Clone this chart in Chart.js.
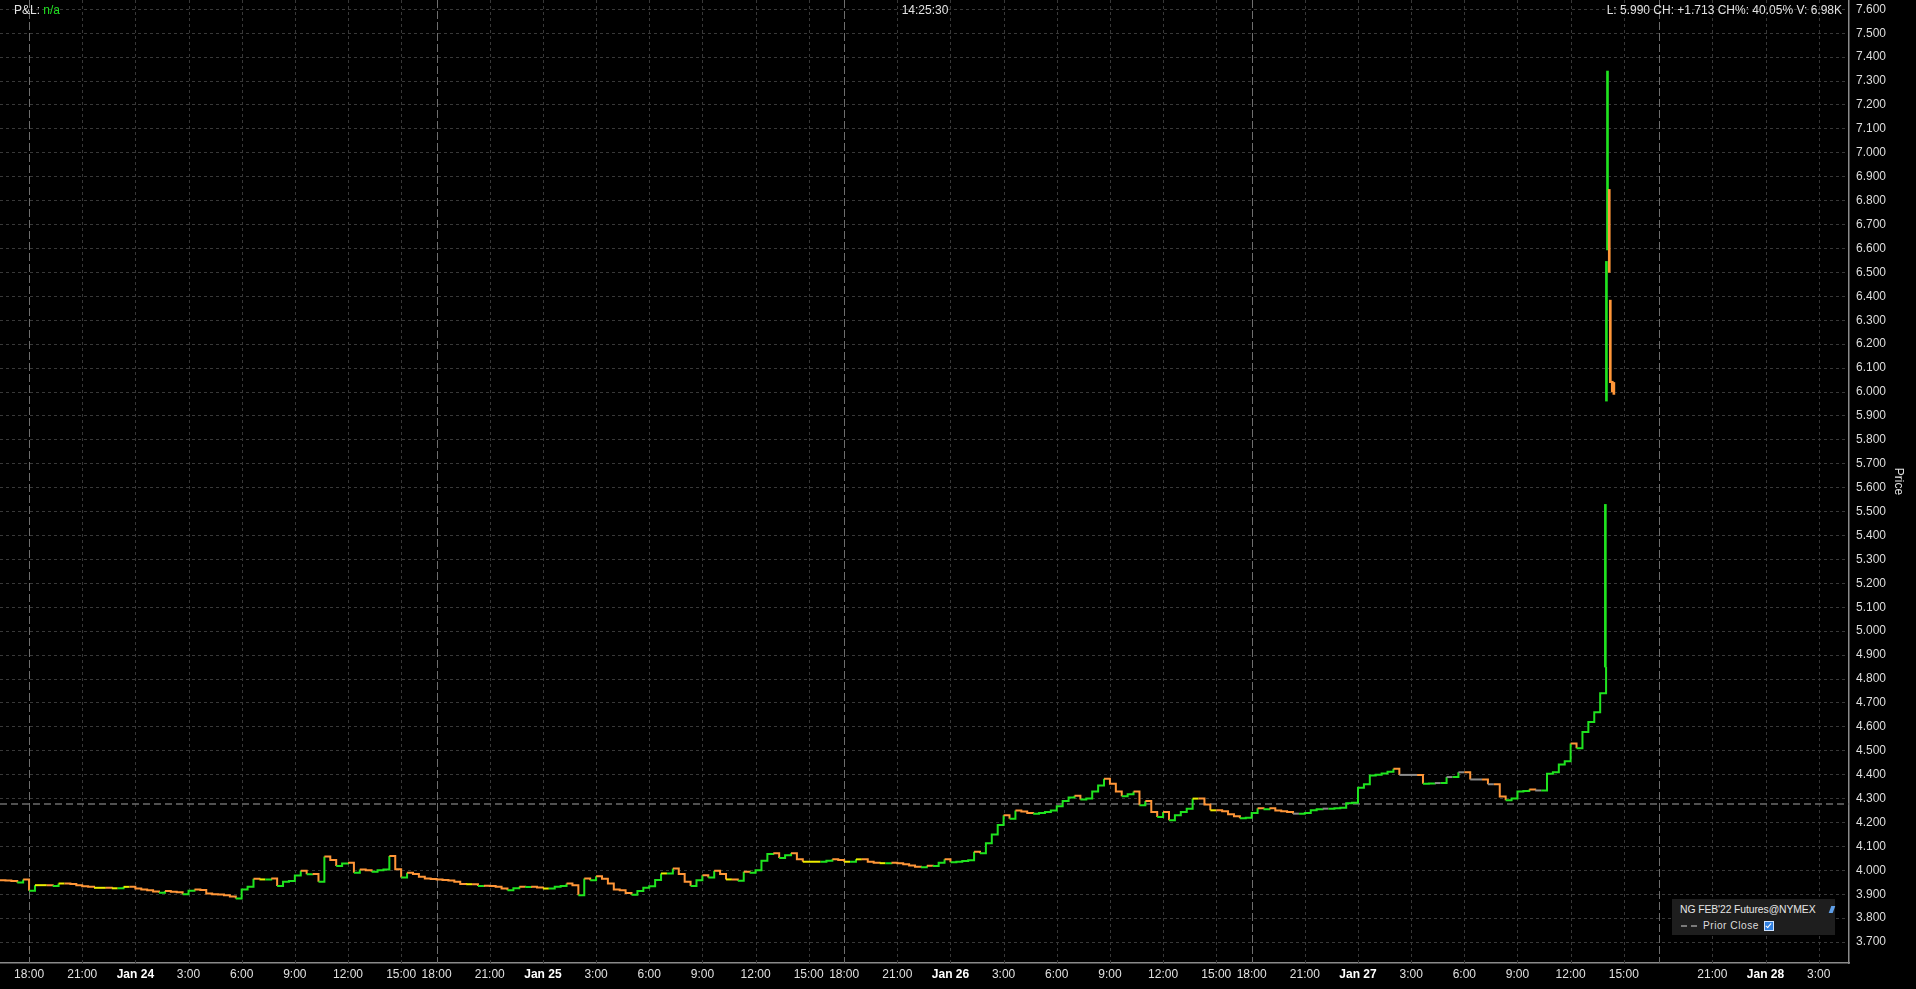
<!DOCTYPE html>
<html>
<head>
<meta charset="utf-8">
<script src="https://cdn.jsdelivr.net/npm/chart.js@4/dist/chart.umd.min.js"></script>
<style>
  html, body { margin:0; padding:0; background:#000; width:1916px; height:989px; overflow:hidden; }
  body { font-family: 'Liberation Sans', Arial, sans-serif; position:relative; }
  #wrap { position:absolute; left:0; top:0; width:1916px; height:989px; }
  canvas { position:absolute; left:0; top:0; }
  .hdr { position:absolute; top:3px; font-size:12px; line-height:14px; color:#e2e2e2; white-space:nowrap; }
  #legend { position:absolute; left:1672px; top:899px; width:163px; height:36px; background:#1e1e1e; }
  #legend .l1 { position:absolute; left:8px; top:4px; font-size:10.4px; line-height:13px; color:#e6e6e6; white-space:nowrap; letter-spacing:-0.1px; }
  #legend .l2 { position:absolute; left:9px; top:20px; font-size:10.2px; line-height:13px; color:#dcdcdc; white-space:nowrap; letter-spacing:0.5px; }
  #legend .dash { display:inline-block; width:16px; height:0; border-top:2px dashed #7a7a7a; vertical-align:middle; margin-right:6px; }
  #legend .chk { display:inline-block; width:8px; height:8px; background:#2f7fe0; border:1px solid #cfe3ff; vertical-align:middle; margin-left:5px; position:relative; }
  #legend .chk::after { content:''; position:absolute; left:2px; top:0px; width:2px; height:5px; border:solid #fff; border-width:0 1.5px 1.5px 0; transform:rotate(40deg); }
  #legend .icon { position:absolute; left:158px; top:7px; width:4px; height:7px; background:#5f9fe8; transform:skewX(-20deg); }
</style>
</head>
<body>
<div id="wrap">
  <canvas id="c" width="1916" height="989"></canvas>
  <div class="hdr" style="left:14px;">P&amp;L: <span style="color:#22e022">n/a</span></div>
  <div class="hdr" style="left:925px;transform:translateX(-50%);">14:25:30</div>
  <div class="hdr" style="right:74px;">L: 5.990 CH: +1.713 CH%: 40.05% V: 6.98K</div>
  <div id="legend">
    <div class="l1">NG FEB'22 Futures@NYMEX</div>
    <div class="icon"></div>
    <div class="l2"><span class="dash"></span>Prior Close<span class="chk"></span></div>
  </div>
</div>
<script>
// ---- Data (x in trading hours since Sun Jan 23 18:00; the 17:00-18:00 break is skipped) ----
const START_HOUR = -5/3;      // first sample: 16:20 (previous session)
const STEP_HOUR = 1/3;        // 20-minute samples

const PRICES = [
  3.959,3.958,3.955,3.949,3.962,3.915,3.938,3.938,3.938,3.935,
  3.945,3.945,3.943,3.938,3.933,3.931,3.927,3.927,3.927,3.925,
  3.925,3.931,3.931,3.924,3.920,3.917,3.912,3.906,3.914,3.910,
  3.908,3.900,3.915,3.920,3.918,3.903,3.900,3.899,3.896,3.891,
  3.882,3.920,3.931,3.965,3.962,3.962,3.966,3.935,3.952,3.955,
  3.978,3.998,3.984,3.985,3.952,4.058,4.043,4.018,4.029,4.032,
  3.990,4.004,4.000,3.994,4.000,4.004,4.060,4.005,3.970,3.990,
  3.985,3.973,3.966,3.964,3.962,3.960,3.958,3.952,3.943,3.942,
  3.942,3.935,3.936,3.935,3.931,3.924,3.917,3.925,3.931,3.930,
  3.931,3.928,3.924,3.924,3.931,3.935,3.945,3.938,3.896,3.966,
  3.959,3.975,3.965,3.945,3.920,3.917,3.905,3.898,3.914,3.927,
  3.934,3.960,3.987,3.987,4.008,3.985,3.952,3.935,3.959,3.980,
  3.970,3.998,3.985,3.962,3.962,3.956,3.994,3.990,4.000,4.040,
  4.068,4.071,4.052,4.063,4.071,4.046,4.036,4.036,4.036,4.036,
  4.040,4.046,4.043,4.036,4.036,4.046,4.046,4.036,4.032,4.030,
  4.030,4.032,4.030,4.025,4.020,4.015,4.013,4.019,4.018,4.032,
  4.046,4.034,4.036,4.039,4.042,4.078,4.071,4.113,4.150,4.190,
  4.230,4.216,4.250,4.246,4.240,4.237,4.240,4.244,4.250,4.268,
  4.290,4.305,4.312,4.296,4.300,4.330,4.355,4.383,4.362,4.330,
  4.310,4.318,4.330,4.272,4.290,4.244,4.223,4.244,4.209,4.230,
  4.244,4.258,4.300,4.300,4.275,4.251,4.251,4.247,4.235,4.226,
  4.218,4.220,4.240,4.260,4.255,4.260,4.250,4.247,4.244,4.237,
  4.237,4.240,4.251,4.255,4.258,4.258,4.260,4.262,4.281,4.283,
  4.345,4.360,4.397,4.400,4.405,4.412,4.425,4.399,4.399,4.399,
  4.399,4.362,4.363,4.365,4.365,4.390,4.390,4.410,4.410,4.380,
  4.380,4.380,4.360,4.360,4.309,4.293,4.300,4.330,4.332,4.338,
  4.334,4.334,4.404,4.410,4.443,4.456,4.530,4.510,4.578,4.620,
  4.661,4.740,4.850
];

// Final expiry spike: individual bars (low/high), up = green, down = orange
const SPIKE_HOURS = [88.96, 89.02, 89.08, 89.18, 89.24, 89.35, 89.44];
const SPIKE_LOW   = [4.850, 5.962, 6.594, 6.500, 6.039, 6.000, 5.990];
const SPIKE_HIGH  = [5.530, 6.546, 7.342, 6.847, 6.384, 6.045, 6.040];
const SPIKE_UP    = [true, true, true, false, false, false, false];

const PRIOR_CLOSE = 4.277;

const TICK_HOURS  = [0,3,6,9,12,15,18,21, 23,26,29,32,35,38,41,44, 46,49,52,55,58,61,64,67, 69,72,75,78,81,84,87,90, 92,95,98,101];
const TICK_LABELS = ['18:00','21:00','Jan 24','3:00','6:00','9:00','12:00','15:00',
                     '18:00','21:00','Jan 25','3:00','6:00','9:00','12:00','15:00',
                     '18:00','21:00','Jan 26','3:00','6:00','9:00','12:00','15:00',
                     '18:00','21:00','Jan 27','3:00','6:00','9:00','12:00','15:00',
                     '','21:00','Jan 28','3:00'];
const SESSION_HOURS = [0,23,46,69,92];
const QUIET_FROM = 69;

const X_MIN = -1.64, X_MAX = 102.71;
const Y_MIN = 3.6126, Y_MAX = 7.639;
const Y_TICK_FIRST = 3.7, Y_TICK_LAST = 7.6, Y_TICK_STEP = 0.1;

// ---- Styles ----
const UP = '#1fe31f', DOWN = '#ff9638', FLAT_EARLY = '#eded00', FLAT_LATE = '#8c8c8c';
const FONT = "'Liberation Sans', Arial, sans-serif";

const priceData = PRICES.map((p, i) => ({ x: START_HOUR + i * STEP_HOUR, y: p }));
const spikeData = SPIKE_HOURS.map((h, k) => ({ x: h, y: [SPIKE_LOW[k], SPIKE_HIGH[k]] }));

const vGrid = {
  id: 'vGrid',
  beforeDatasetsDraw(chart) {
    const { ctx, chartArea: { top, bottom }, scales: { x } } = chart;
    ctx.save();
    TICK_HOURS.forEach(h => {
      const px = Math.round(x.getPixelForValue(h)) + 0.5;
      const sess = SESSION_HOURS.includes(h);
      ctx.strokeStyle = sess ? '#6e6e6e' : '#383838';
      ctx.setLineDash(sess ? [8, 3] : [3, 3]);
      ctx.lineWidth = 1;
      ctx.beginPath();
      ctx.moveTo(px, top);
      ctx.lineTo(px, bottom);
      ctx.stroke();
    });
    ctx.restore();
  }
};

new Chart(document.getElementById('c'), {
  type: 'line',
  data: {
    datasets: [
      {
        label: 'NG FEB\'22 Futures@NYMEX',
        data: priceData,
        stepped: true,
        borderWidth: 2,
        pointRadius: 0,
        borderColor: UP,
        segment: {
          borderColor: ctx => {
            const a = ctx.p0.parsed.y, b = ctx.p1.parsed.y;
            if (b > a) return UP;
            if (b < a) return DOWN;
            return ctx.p0.parsed.x >= QUIET_FROM ? FLAT_LATE : FLAT_EARLY;
          }
        },
        order: 1
      },
      {
        type: 'bar',
        label: 'spike',
        data: spikeData,
        backgroundColor: SPIKE_UP.map(u => u ? UP : DOWN),
        borderWidth: 0,
        barThickness: 2,
        order: 0
      },
      {
        label: 'Prior Close',
        data: [{ x: X_MIN, y: PRIOR_CLOSE }, { x: X_MAX, y: PRIOR_CLOSE }],
        borderColor: '#6c6c6c',
        borderWidth: 1.5,
        borderDash: [7, 4],
        pointRadius: 0,
        order: 3
      }
    ]
  },
  options: {
    responsive: false,
    animation: false,
    devicePixelRatio: 1,
    layout: { padding: 0 },
    plugins: { legend: { display: false }, tooltip: { enabled: false } },
    scales: {
      x: {
        type: 'linear',
        position: 'bottom',
        min: X_MIN, max: X_MAX,
        offset: false,
        afterBuildTicks: s => { s.ticks = TICK_HOURS.map(v => ({ value: v })); },
        afterFit: s => { s.height = 26; s.paddingLeft = 0; s.paddingRight = 0; },
        ticks: {
          autoSkip: false, maxRotation: 0, minRotation: 0, padding: 4,
          color: ctx => (TICK_LABELS[ctx.index] || '').startsWith('Jan') ? '#ffffff' : '#e0e0e0',
          font: ctx => ({ family: FONT, size: 12, weight: (TICK_LABELS[ctx.index] || '').startsWith('Jan') ? 'bold' : 'normal' }),
          callback: (v, i) => TICK_LABELS[i]
        },
        grid: { display: false, drawTicks: false },
        border: { display: true, color: '#8a8a8a', width: 1.5 }
      },
      y: {
        type: 'linear',
        position: 'right',
        min: Y_MIN, max: Y_MAX,
        afterBuildTicks: s => {
          const t = [];
          for (let v = Y_TICK_FIRST; v <= Y_TICK_LAST + 1e-9; v += Y_TICK_STEP) t.push({ value: Math.round(v * 10) / 10 });
          s.ticks = t;
        },
        afterFit: s => { s.width = 67; s.paddingTop = 0; s.paddingBottom = 0; },
        ticks: {
          padding: 7, color: '#dedede',
          font: { family: FONT, size: 12 },
          callback: v => v.toFixed(3)
        },
        grid: { color: '#383838', lineWidth: 1, drawTicks: false },
        border: { display: true, color: '#8a8a8a', width: 1.5, dash: [3, 3] },
        title: { display: true, text: 'Price', color: '#e0e0e0', font: { family: FONT, size: 12 }, padding: { top: 10, bottom: 0 } }
      }
    }
  },
  plugins: [vGrid]
});
</script>
</body>
</html>
